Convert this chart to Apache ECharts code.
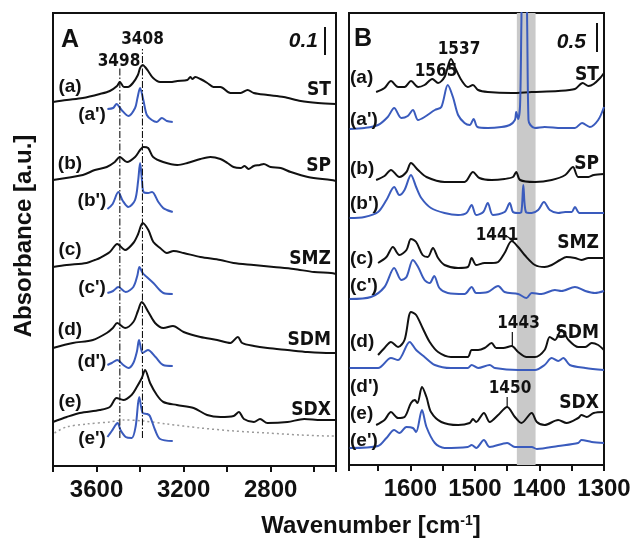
<!DOCTYPE html>
<html>
<head>
<meta charset="utf-8">
<script src="https://cdn.jsdelivr.net/npm/echarts@6/dist/echarts.min.js"></script>
<style>
  html, body { margin: 0; background: #fff; }
  #chart { width: 634px; height: 539px; }
</style>
</head>
<body>
<div id="chart"></div>
<script>
// ---- panel A: 3800-2500 cm-1, [wavenumber, absorbance (a.u., offset stacked)] ----
const stA = [[3800,364],[3737,366],[3663,368],[3585,372],[3539,375],[3506,380],[3493,384],[3474,379],[3456,379],[3433,383],[3410,391],[3400,398],[3388,401],[3377,399],[3363,395],[3340,388],[3308,384],[3262,384],[3229,385],[3183,386],[3169,389],[3160,387],[3146,389],[3123,387],[3091,383],[3063,379],[3031,379],[2985,373],[2938,373],[2906,376],[2878,373],[2814,371],[2740,369],[2662,365],[2583,363],[2500,362]]
const stRefA = [[3550,357],[3524,358],[3508,362],[3485,356],[3454,350],[3423,358],[3412,368],[3400,378],[3385,366],[3369,351],[3346,346],[3323,344],[3300,348],[3277,345],[3250,344]]
const spA = [[3800,286],[3663,291],[3608,296],[3553,299],[3516,304],[3493,309],[3460,304],[3423,309],[3400,316],[3385,319],[3363,318],[3340,309],[3294,304],[3229,301],[3183,303],[3123,307],[3077,309],[3031,307],[2999,303],[2971,299],[2938,298],[2920,300],[2902,297],[2878,300],[2850,301],[2832,302],[2800,299],[2754,298],[2708,294],[2629,289],[2523,286],[2500,285]]
const spRefA = [[3550,257],[3526,262],[3500,274],[3479,265],[3454,259],[3423,266],[3409,285],[3400,303],[3391,285],[3384,274],[3363,273],[3345,274],[3316,264],[3294,258],[3277,256],[3250,254]]
const smzA = [[3800,199],[3737,201],[3646,203],[3608,206],[3585,208],[3539,214],[3505,222],[3469,216],[3431,223],[3409,232],[3388,243],[3362,236],[3339,224],[3308,218],[3277,213],[3246,215],[3200,213],[3123,209],[3031,206],[2971,203],[2878,201],[2786,199],[2694,197],[2601,194],[2523,193],[2500,192]]
const smzRefA = [[3550,173],[3524,175],[3500,179],[3466,174],[3431,179],[3413,190],[3403,199],[3388,193],[3369,189],[3339,183],[3293,173],[3250,172]]
const sdmA = [[3800,118],[3709,123],[3617,126],[3553,133],[3525,138],[3505,143],[3469,138],[3431,144],[3410,155],[3392,164],[3362,154],[3331,143],[3293,138],[3249,140],[3200,134],[3123,129],[3046,126],[2985,123],[2951,129],[2931,123],[2877,120],[2815,118],[2723,116],[2630,114],[2523,113],[2500,113]]
const sdmRefA = [[3550,101],[3530,103],[3505,106],[3477,101],[3454,98],[3431,103],[3414,115],[3405,126],[3388,113],[3364,116],[3329,109],[3294,101],[3250,100]]
const sdxA = [[3800,44],[3737,49],[3677,53],[3585,56],[3539,59],[3508,68],[3477,66],[3439,71],[3415,79],[3392,88],[3377,96],[3354,83],[3323,71],[3293,64],[3231,61],[3154,58],[3092,51],[3031,49],[2970,50],[2946,54],[2923,47],[2877,44],[2849,47],[2815,43],[2723,44],[2646,47],[2569,46],[2500,46]]
const sdxRefA = [[3550,29],[3530,35],[3503,43],[3490,36],[3466,29],[3438,28],[3420,40],[3404,69],[3388,53],[3367,52],[3355,50],[3331,36],[3308,27],[3250,25]]
const blankA = [[3793,33],[3739,39],[3646,42],[3539,44],[3477,46],[3385,45],[3277,42],[3123,38],[2969,35],[2815,33],[2662,31],[2523,30],[2500,30]]
const guideLinesA = [[3493, 28, 398], [3389, 28, 417]]   // wavenumber, from, to

// ---- panel B: 1695-1300 cm-1 ----
const stB = [[1653,373],[1640,377],[1630,384],[1619,378],[1609,378],[1599,384],[1588,378],[1578,380],[1566,386],[1557,382],[1547,388],[1537,406],[1529,395],[1521,385],[1511,378],[1503,380],[1495,375],[1480,373],[1443,372],[1412,373],[1371,374],[1345,376],[1333,382],[1324,379],[1316,381],[1306,387],[1300,392]]
const stRefB = [[1694,336],[1671,337],[1650,340],[1635,348],[1625,357],[1614,347],[1604,349],[1596,355],[1588,345],[1578,348],[1562,355],[1552,358],[1542,380],[1534,368],[1526,350],[1516,342],[1508,340],[1502,346],[1496,338],[1480,337],[1459,338],[1446,340],[1438,345],[1436,353],[1433,346],[1430,360],[1428,440],[1426,520],[1421,520],[1419,440],[1417,345],[1414,340],[1407,337],[1392,338],[1366,337],[1345,337],[1334,342],[1322,338],[1309,345],[1300,358]]
const spB = [[1653,285],[1640,289],[1630,295],[1617,288],[1606,293],[1599,302],[1588,295],[1575,288],[1547,283],[1516,283],[1503,293],[1493,287],[1474,285],[1454,286],[1441,288],[1436,293],[1430,285],[1407,283],[1381,285],[1360,290],[1348,298],[1340,288],[1324,288],[1316,290],[1300,291]]
const spRefB = [[1694,247],[1671,248],[1650,253],[1637,265],[1625,278],[1617,270],[1609,275],[1599,290],[1591,278],[1583,267],[1568,257],[1547,252],[1526,250],[1513,252],[1505,260],[1498,250],[1487,253],[1480,262],[1472,250],[1454,253],[1446,262],[1441,253],[1433,252],[1428,253],[1425,280],[1421,253],[1412,252],[1402,255],[1393,263],[1384,255],[1371,252],[1360,253],[1350,253],[1345,258],[1338,252],[1319,252],[1300,252]]
const smzB = [[1650,202],[1637,208],[1627,218],[1617,210],[1606,215],[1599,226],[1591,223],[1581,210],[1573,208],[1565,217],[1557,207],[1547,200],[1526,197],[1511,198],[1505,207],[1498,200],[1485,202],[1474,202],[1464,203],[1454,212],[1443,224],[1433,218],[1423,210],[1407,200],[1392,198],[1381,200],[1368,205],[1358,208],[1345,207],[1335,205],[1324,207],[1309,207],[1300,207]]
const smzRefB = [[1694,166],[1661,168],[1640,178],[1625,197],[1614,185],[1606,188],[1596,205],[1588,198],[1578,185],[1570,182],[1563,189],[1555,177],[1542,172],[1516,171],[1505,178],[1498,172],[1480,173],[1464,179],[1454,173],[1433,171],[1420,167],[1412,172],[1397,171],[1376,175],[1366,174],[1345,178],[1329,174],[1314,172],[1300,174]]
const sdmB = [[1650,110],[1640,117],[1630,123],[1619,118],[1609,125],[1599,153],[1591,150],[1581,137],[1570,123],[1557,113],[1537,108],[1511,108],[1505,115],[1495,115],[1485,117],[1474,122],[1467,117],[1456,117],[1443,119],[1433,113],[1420,108],[1407,108],[1392,115],[1384,128],[1376,125],[1366,135],[1355,125],[1340,118],[1329,118],[1319,122],[1309,120],[1300,115]]
const sdmRefB = [[1694,97],[1650,97],[1630,107],[1619,105],[1601,123],[1591,115],[1578,108],[1562,100],[1537,97],[1511,97],[1505,100],[1495,97],[1477,100],[1469,97],[1433,95],[1407,95],[1392,100],[1381,107],[1371,104],[1363,107],[1353,100],[1329,97],[1300,95]]
const sdxB = [[1653,40],[1640,45],[1630,53],[1619,47],[1609,48],[1599,62],[1593,65],[1589,62],[1582,78],[1575,68],[1568,53],[1552,43],[1526,40],[1508,42],[1503,46],[1498,43],[1486,52],[1477,43],[1464,50],[1450,58],[1438,48],[1428,42],[1412,52],[1404,43],[1392,40],[1371,45],[1358,42],[1340,47],[1335,50],[1327,48],[1316,52],[1300,53]]
const sdxRefB = [[1694,17],[1650,19],[1637,27],[1625,35],[1617,32],[1606,38],[1596,37],[1591,33],[1582,55],[1575,38],[1562,22],[1547,17],[1511,18],[1505,20],[1498,17],[1486,25],[1477,18],[1450,22],[1438,18],[1412,18],[1404,16],[1371,19],[1340,22],[1335,25],[1319,23],[1300,22]]
const bandB = [1435, 1406]
const leadersB = [[[1451,229],[1440,224]], [[1442,118],[1442,133]], [[1450,57],[1450,68]]]

const ticksA = [3600, 3200, 2800]
const ticksB = [1600, 1500, 1400, 1300]

const BLACK = '#111'
const BLUE = '#3a5bbd'
const FONT = '"Liberation Sans", Arial, sans-serif'
const NARROW = '"Liberation Sans Narrow", "DejaVu Sans Condensed", sans-serif'

const chart = echarts.init(document.getElementById('chart'), null, { renderer: 'canvas' })

function spec(data, panel, color, extra) {
  const isA = panel === 'A'
  return Object.assign({
    type: 'line',
    xAxisIndex: isA ? 0 : 1,
    yAxisIndex: isA ? 0 : 1,
    data: data.map(p => [isA ? -p[0] : p[0], p[1]]),
    symbol: 'none',
    smooth: 0.3,
    silent: true,
    z: 3,
    lineStyle: { color, width: 2 },
  }, extra || {})
}

const series = [
  // grey band in panel B
  {
    type: 'line', xAxisIndex: 1, yAxisIndex: 1, data: [], z: 1, silent: true,
    markArea: {
      silent: true,
      itemStyle: { color: '#c9c9c9' },
      data: [[{ xAxis: bandB[0] }, { xAxis: bandB[1] }]],
    },
  },
  spec(blankA, 'A', '#9a9a9a', { lineStyle: { color: '#9a9a9a', width: 1.5, type: [2, 3] } }),
]
guideLinesA.forEach(g => {
  series.push(spec([[g[0], g[1]], [g[0], g[2]]], 'A', BLACK, {
    smooth: false, z: 4, lineStyle: { color: BLACK, width: 1.1, type: [7, 2, 1.5, 2] },
  }))
})
;[stA, spA, smzA, sdmA, sdxA].forEach(d => series.push(spec(d, 'A', BLACK)))
;[stRefA, spRefA, smzRefA, sdmRefA, sdxRefA].forEach(d => series.push(spec(d, 'A', BLUE)))
;[stB, spB, smzB, sdmB, sdxB].forEach(d => series.push(spec(d, 'B', BLACK)))
;[stRefB, spRefB, smzRefB, sdmRefB, sdxRefB].forEach(d => series.push(spec(d, 'B', BLUE)))
leadersB.forEach(l => series.push(spec(l, 'B', BLACK, { smooth: false, lineStyle: { color: BLACK, width: 1.2 } })))

// text annotations (pixel layout)
const curveLabelsA = [['(a)',70,87],["(a')",92,115],['(b)',70,164],["(b')",92,201],['(c)',70,250],["(c')",92,288],['(d)',70,330],["(d')",92,362],['(e)',70,402],["(e')",92,439]]
const curveLabelsB = [['(a)',350,78],["(a')",350,120],['(b)',350,169],["(b')",350,204],['(c)',350,259],["(c')",350,286],['(d)',350,342],["(d')",350,387],['(e)',350,414],["(e')",350,441]]
const namesA = [['ST',90],['SP',166],['SMZ',259],['SDM',340],['SDX',410]]
const namesB = [['ST',75],['SP',164],['SMZ',243],['SDM',333],['SDX',403]]
const peakLabels = [['3498',119,62],['3408',142.5,40],['1565',436,72],['1537',459,50],['1441',497,236],['1443',518.5,324],['1450',510,389]]

function txt(text, x, y, font, align, extra) {
  return Object.assign({
    type: 'text', x, y, z: 10, silent: true,
    style: { text, font, fill: BLACK, align: align || 'center', verticalAlign: 'middle' },
  }, extra || {})
}

const graphic = []
curveLabelsA.forEach(l => graphic.push(txt(l[0], l[1], l[2], 'bold 19px ' + FONT)))
curveLabelsB.forEach(l => graphic.push(txt(l[0], l[1], l[2], 'bold 19px ' + FONT, 'left')))
namesA.forEach(l => graphic.push(txt(l[0], 331, l[1], 'bold 19px ' + NARROW, 'right')))
namesB.forEach(l => graphic.push(txt(l[0], 599, l[1], 'bold 19px ' + NARROW, 'right')))
peakLabels.forEach(l => graphic.push(txt(l[0], l[1], l[2], 'bold 17px ' + NARROW)))
graphic.push(txt('A', 70, 40, 'bold 25px ' + FONT))
graphic.push(txt('B', 363, 39, 'bold 25px ' + FONT))
graphic.push(txt('0.1', 318, 41, 'italic bold 21px ' + FONT, 'right'))
graphic.push(txt('0.5', 586, 42, 'italic bold 21px ' + FONT, 'right'))
graphic.push({ type: 'line', z: 10, silent: true, shape: { x1: 325, y1: 27, x2: 325, y2: 55 }, style: { stroke: BLACK, lineWidth: 2 } })
graphic.push({ type: 'line', z: 10, silent: true, shape: { x1: 597, y1: 23, x2: 597, y2: 52 }, style: { stroke: BLACK, lineWidth: 2 } })
graphic.push(txt('Absorbance [a.u.]', 24, 236, 'bold 24px ' + FONT, 'center', { rotation: Math.PI / 2 }))
graphic.push({
  type: 'text', x: 371, y: 526, z: 10, silent: true,
  style: {
    text: '{t|Wavenumber [cm}{s|-1}{t|]}',
    align: 'center', verticalAlign: 'middle', fill: BLACK,
    rich: {
      t: { font: 'bold 24px ' + FONT, fill: BLACK, verticalAlign: 'bottom' },
      s: { font: 'bold 14px ' + FONT, fill: BLACK, verticalAlign: 'top' },
    },
  },
})

function xAxisOpt(idx, extra) {
  return Object.assign({
    type: 'value', gridIndex: idx, position: 'bottom',
    axisLine: { show: true, onZero: false, lineStyle: { color: BLACK, width: 2 } },
    axisTick: { show: true, inside: false, length: 6, lineStyle: { color: BLACK, width: 2 } },
    axisLabel: { color: BLACK, fontSize: 24, fontWeight: 'bold', fontFamily: FONT, margin: 12 },
    splitLine: { show: false },
  }, extra)
}

chart.setOption({
  animation: false,
  backgroundColor: '#fff',
  grid: [
    { left: 53, top: 13, width: 283, height: 453, show: true, borderColor: BLACK, borderWidth: 2, backgroundColor: 'transparent' },
    { left: 349, top: 13, width: 255, height: 452, show: true, borderColor: BLACK, borderWidth: 2, backgroundColor: 'transparent' },
  ],
  xAxis: [
    xAxisOpt(0, {
      min: -3800, max: -2500, interval: 200,
      axisLabel: { color: BLACK, fontSize: 24, fontWeight: 'bold', fontFamily: FONT, margin: 12,
        formatter: v => ticksA.includes(-v) ? String(-v) : '' },
    }),
    xAxisOpt(1, {
      min: 1300, max: 1695, interval: 50, inverse: true,
      axisLabel: { color: BLACK, fontSize: 24, fontWeight: 'bold', fontFamily: FONT, margin: 12,
        showMinLabel: true, formatter: v => ticksB.includes(v) ? String(v) : '' },
    }),
  ],
  yAxis: [
    { type: 'value', gridIndex: 0, min: 0, max: 453, show: false },
    { type: 'value', gridIndex: 1, min: 0, max: 452, show: false },
  ],
  series,
  graphic,
})
</script>
</body>
</html>
